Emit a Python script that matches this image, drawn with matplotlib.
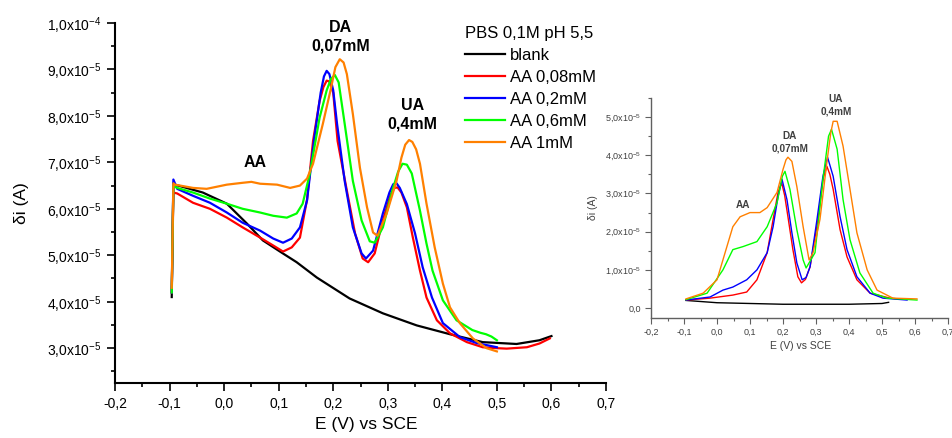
import numpy as np
import matplotlib
matplotlib.use('Agg')
import matplotlib.pyplot as plt
from matplotlib.ticker import FuncFormatter, MultipleLocator

plt.rcParams['font.family'] = ['Liberation Sans', 'DejaVu Sans']
plt.rcParams['mathtext.fontset'] = 'custom'
plt.rcParams['mathtext.rm'] = 'Liberation Sans'
plt.rcParams['mathtext.it'] = 'Liberation Sans:italic'
plt.rcParams['mathtext.bf'] = 'Liberation Sans:bold'

# currents are stored in units of 1e-5 A
labels = ['blank', 'AA 0,08mM', 'AA 0,2mM', 'AA 0,6mM', 'AA 1mM']
colors = ['#000000', '#ff0000', '#0000ff', '#00ff00', '#ff8000']

# main plot (raw DPV)
blank_x = [-0.096, -0.093, -0.09, -0.039, 0.005, 0.042, 0.071, 0.105, 0.133, 0.17, 0.23, 0.291,
           0.353, 0.414, 0.474, 0.536, 0.578, 0.6]
blank_y = [4.10, 6.55, 6.52, 6.35, 6.11, 5.68, 5.32, 5.06, 4.85, 4.52, 4.07, 3.75,
           3.49, 3.30, 3.13, 3.09, 3.17, 3.26]

red_x = [-0.096, -0.093, -0.086, -0.057, -0.026, 0.005, 0.034, 0.066, 0.09, 0.108, 0.124, 0.139,
         0.152, 0.163, 0.175, 0.182, 0.188, 0.193, 0.2, 0.208, 0.225, 0.24, 0.254, 0.264, 0.276,
         0.291, 0.305, 0.312, 0.318, 0.325, 0.335, 0.346, 0.359, 0.371, 0.39, 0.414, 0.445, 0.474,
         0.5, 0.518, 0.555, 0.578, 0.597]
red_y = [4.2, 6.35, 6.33, 6.13, 6.0, 5.81, 5.6, 5.38, 5.21, 5.08, 5.17, 5.38,
         6.2, 7.46, 8.32, 8.62, 8.76, 8.74, 8.5, 7.46, 6.39, 5.47, 4.93, 4.85, 5.04,
         5.75, 6.3, 6.45, 6.46, 6.35, 6.03, 5.38, 4.67, 4.09, 3.6, 3.32, 3.13, 3.02,
         3.0, 2.99, 3.02, 3.1, 3.21]

blue_x = [-0.096, -0.093, -0.086, -0.057, -0.026, 0.005, 0.034, 0.066, 0.09, 0.108, 0.124, 0.139,
          0.152, 0.165, 0.177, 0.183, 0.188, 0.193, 0.2, 0.207, 0.221, 0.236, 0.252, 0.26, 0.273,
          0.291, 0.303, 0.31, 0.316, 0.322, 0.335, 0.35, 0.364, 0.381, 0.401, 0.432, 0.463, 0.5]
blue_y = [4.2, 6.63, 6.43, 6.28, 6.13, 5.92, 5.7, 5.53, 5.36, 5.27, 5.36, 5.6,
          6.18, 7.5, 8.5, 8.85, 8.97, 8.9, 8.55, 7.83, 6.6, 5.6, 5.04, 4.93, 5.1,
          5.9, 6.35, 6.53, 6.55, 6.45, 6.1, 5.47, 4.74, 4.09, 3.54, 3.24, 3.11, 3.02]

green_x = [-0.096, -0.093, -0.086, -0.057, -0.026, 0.005, 0.034, 0.066, 0.09, 0.115, 0.133, 0.144,
           0.157, 0.175, 0.188, 0.196, 0.203, 0.21, 0.221, 0.236, 0.252, 0.267, 0.276, 0.291,
           0.309, 0.319, 0.327, 0.335, 0.344, 0.359, 0.371, 0.382, 0.401, 0.426, 0.455, 0.47,
           0.48, 0.49, 0.5]
green_y = [4.2, 6.5, 6.45, 6.35, 6.22, 6.11, 6.0, 5.92, 5.85, 5.81, 5.9, 6.11,
           6.75, 7.96, 8.55, 8.8, 8.88, 8.72, 7.83, 6.6, 5.75, 5.3, 5.27, 5.6,
           6.42, 6.8, 6.97, 6.95, 6.76, 5.96, 5.25, 4.67, 4.03, 3.6, 3.39, 3.33,
           3.3, 3.25, 3.17]

orange_x = [-0.096, -0.093, -0.09, -0.057, -0.032, 0.005, 0.034, 0.05, 0.066, 0.097, 0.121, 0.139,
            0.152, 0.163, 0.181, 0.195, 0.204, 0.212, 0.219, 0.225, 0.236, 0.249, 0.262, 0.273,
            0.281, 0.298, 0.316, 0.325, 0.332, 0.339, 0.345, 0.352, 0.359, 0.371, 0.386, 0.401,
            0.414, 0.432, 0.456, 0.481, 0.5]
orange_y = [4.3, 6.55, 6.52, 6.45, 6.43, 6.52, 6.56, 6.58, 6.54, 6.52, 6.45, 6.5,
            6.65, 6.97, 7.83, 8.55, 9.05, 9.22, 9.15, 8.9, 8.04, 6.88, 6.03, 5.49,
            5.42, 5.9, 6.6, 7.1, 7.38, 7.48, 7.44, 7.28, 6.97, 6.11, 5.17, 4.39,
            3.88, 3.54, 3.21, 3.0, 2.93]

# inset (baseline corrected)
blank_in_x = [-0.094, 0.0, 0.1, 0.2, 0.3, 0.4, 0.5, 0.52]
blank_in_y = [0.20, 0.14, 0.12, 0.10, 0.10, 0.10, 0.12, 0.15]

red_in_x = [-0.094, -0.021, 0.048, 0.09, 0.121, 0.152, 0.17, 0.185, 0.196, 0.205, 0.215, 0.23,
            0.245, 0.256, 0.268, 0.282, 0.306, 0.322, 0.333, 0.342, 0.352, 0.373, 0.394, 0.424,
            0.464, 0.524, 0.55]
red_in_y = [0.21, 0.26, 0.34, 0.42, 0.74, 1.45, 2.32, 3.03, 3.28, 2.95, 2.39, 1.53,
            0.82, 0.66, 0.75, 1.08, 2.32, 3.4, 3.71, 3.5, 3.11, 2.05, 1.34, 0.74,
            0.39, 0.26, 0.24]

blue_in_x = [-0.094, -0.021, 0.018, 0.048, 0.09, 0.121, 0.152, 0.17, 0.185, 0.197, 0.212, 0.227,
             0.242, 0.258, 0.27, 0.282, 0.303, 0.321, 0.335, 0.352, 0.373, 0.394, 0.424, 0.464,
             0.503, 0.576]
blue_in_y = [0.21, 0.29, 0.47, 0.55, 0.74, 1.0, 1.45, 2.13, 2.92, 3.37, 2.84, 1.97,
             1.18, 0.74, 0.8, 1.08, 2.32, 3.45, 3.95, 3.45, 2.39, 1.53, 0.82, 0.39,
             0.26, 0.21]

green_in_x = [-0.094, -0.03, 0.018, 0.048, 0.079, 0.121, 0.152, 0.182, 0.198, 0.206, 0.221, 0.242,
              0.261, 0.27, 0.297, 0.321, 0.338, 0.347, 0.364, 0.382, 0.403, 0.433, 0.473, 0.515,
              0.606]
green_in_y = [0.22, 0.39, 1.0, 1.53, 1.61, 1.74, 2.13, 2.76, 3.45, 3.58, 3.11, 2.05,
              1.26, 1.05, 1.45, 3.37, 4.5, 4.68, 4.16, 2.84, 1.79, 0.92, 0.39, 0.26,
              0.21]

orange_in_x = [-0.094, -0.042, 0.0, 0.03, 0.048, 0.07, 0.1, 0.13, 0.152, 0.182, 0.2, 0.209,
               0.215, 0.227, 0.242, 0.261, 0.279, 0.291, 0.312, 0.333, 0.345, 0.352, 0.364,
               0.382, 0.403, 0.424, 0.455, 0.485, 0.533, 0.606]
orange_in_y = [0.24, 0.39, 0.74, 1.61, 2.13, 2.39, 2.5, 2.5, 2.63, 3.03, 3.63, 3.88,
               3.95, 3.84, 3.18, 2.13, 1.26, 1.45, 2.32, 3.82, 4.6, 4.89, 4.89,
               4.24, 3.11, 1.97, 1.0, 0.47, 0.26, 0.24]

main_series = [(blank_x, blank_y), (red_x, red_y), (blue_x, blue_y),
               (green_x, green_y), (orange_x, orange_y)]
inset_series = [(blank_in_x, blank_in_y), (red_in_x, red_in_y), (blue_in_x, blue_in_y),
                (green_in_x, green_in_y), (orange_in_x, orange_in_y)]


def sci_comma(v, pos):
    if abs(v) < 1e-12:
        return '0,0'
    exp = int(np.floor(np.round(np.log10(abs(v)), 6)))
    mant = v / 10 ** exp
    return ('%.1f' % mant).replace('.', ',') + r'x10$^{%d}$' % exp


def comma(v, pos):
    return ('%.1f' % v).replace('.', ',')


fig = plt.figure(figsize=(9.52, 4.38), dpi=100)

# ---- main axes
ax = fig.add_axes([115 / 952, 1 - 383 / 438, 491 / 952, 360 / 438])
for (x, y), c, lab in zip(main_series, colors, labels):
    ax.plot(x, np.array(y) * 1e-5, color=c, lw=1.6, label=lab)

ax.set_xlim(-0.2, 0.7)
ax.set_ylim(2.25e-5, 1.0e-4)
ax.spines['top'].set_visible(False)
ax.spines['right'].set_visible(False)
for s in ['left', 'bottom']:
    ax.spines[s].set_linewidth(1.5)
ax.xaxis.set_major_locator(MultipleLocator(0.1))
ax.xaxis.set_minor_locator(MultipleLocator(0.05))
ax.yaxis.set_major_locator(MultipleLocator(1e-5))
ax.yaxis.set_minor_locator(MultipleLocator(0.5e-5))
ax.xaxis.set_major_formatter(FuncFormatter(comma))
ax.yaxis.set_major_formatter(FuncFormatter(sci_comma))
ax.tick_params(which='major', length=6, width=1.2, labelsize=10, pad=4)
ax.tick_params(which='minor', length=3, width=1.2)
ax.set_xlabel('E (V) vs SCE', fontsize=12.5)
ax.xaxis.set_label_coords(0.511, -0.094)
ax.set_ylabel('δi (A)', fontsize=12.5)
ax.yaxis.set_label_coords(-0.175, 0.5)

ax.text(0.056, 7.0e-5, 'AA', fontsize=11.5, fontweight='bold', ha='center', va='center')
ax.text(0.214, 9.7e-5, 'DA\n0,07mM', fontsize=11.5, fontweight='bold', ha='center', va='center',
        linespacing=1.3)
ax.text(0.346, 8.03e-5, 'UA\n0,4mM', fontsize=11.5, fontweight='bold', ha='center', va='center',
        linespacing=1.3)

leg = fig.legend(*ax.get_legend_handles_labels(), loc='upper left',
                 bbox_to_anchor=(465 / 952, 1 - 26 / 438), frameon=False, fontsize=12,
                 title='PBS 0,1M pH 5,5', title_fontsize=12, alignment='left',
                 handlelength=2.4, handletextpad=0.3, labelspacing=0.42,
                 borderpad=0, borderaxespad=0)

# ---- inset axes
grey = '#606060'
axi = fig.add_axes([651 / 952, 1 - 318 / 438, 297 / 952, 220 / 438])
for (x, y), c in zip(inset_series, colors):
    axi.plot(x, np.array(y) * 1e-5, color=c, lw=1.0)
axi.set_xlim(-0.2, 0.7)
axi.set_ylim(-0.26e-5, 5.5e-5)
axi.spines['top'].set_visible(False)
axi.spines['right'].set_visible(False)
for s in ['left', 'bottom']:
    axi.spines[s].set_color(grey)
    axi.spines[s].set_linewidth(1.0)
axi.xaxis.set_major_locator(MultipleLocator(0.1))
axi.xaxis.set_minor_locator(MultipleLocator(0.05))
axi.yaxis.set_major_locator(MultipleLocator(1e-5))
axi.yaxis.set_minor_locator(MultipleLocator(0.5e-5))
axi.xaxis.set_major_formatter(FuncFormatter(comma))
axi.yaxis.set_major_formatter(FuncFormatter(sci_comma))
axi.tick_params(which='major', length=4, width=0.8, labelsize=6.5, pad=3, color=grey,
                labelcolor='#404040')
axi.tick_params(which='minor', length=2, width=0.8, color=grey)
axi.set_xlabel('E (V) vs SCE', fontsize=7.5, color='#404040')
axi.xaxis.set_label_coords(0.502, -0.105)
axi.set_ylabel('δi (A)', fontsize=7.5, color='#404040')
axi.yaxis.set_label_coords(-0.178, 0.5)

axi.text(0.08, 2.7e-5, 'AA', fontsize=7.2, fontweight='bold', ha='center', va='center',
         color='#404040')
axi.text(0.221, 4.35e-5, 'DA\n0,07mM', fontsize=7.2, fontweight='bold', ha='center',
         va='center', color='#404040', linespacing=1.3)
axi.text(0.36, 5.3e-5, 'UA\n0,4mM', fontsize=7.2, fontweight='bold', ha='center',
         va='center', color='#404040', linespacing=1.3)

fig.savefig('out.png', dpi=100)
